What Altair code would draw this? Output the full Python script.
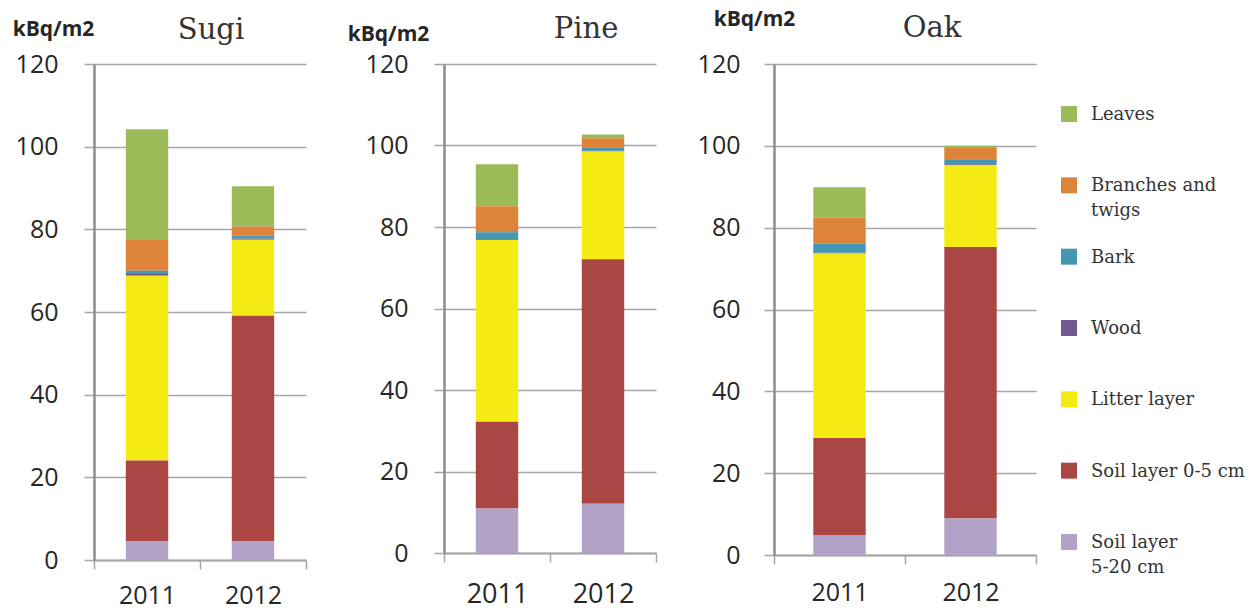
import altair as alt
import pandas as pd

panels = ["Sugi", "Pine", "Oak"]
years = ["2011", "2012"]
series = ["Leaves", "Branches and twigs", "Bark", "Wood", "Litter layer",
          "Soil layer 0-5 cm", "Soil layer 5-20 cm"]
series_labels = ["Leaves", "Branches and\ntwigs", "Bark", "Wood", "Litter layer",
                 "Soil layer 0-5 cm", "Soil layer\n5-20 cm"]
colors = ["#9BBB59", "#DD843A", "#4298B0", "#71588F", "#F5EB14", "#AA4644", "#B2A2C8"]
y_ticks = [0, 20, 40, 60, 80, 100, 120]

# bars in order: Sugi 2011, Sugi 2012, Pine 2011, Pine 2012, Oak 2011, Oak 2012
leaves = [26.6, 9.7, 10.3, 0.9, 7.4, 0.5]
branches = [7.6, 2.2, 6.4, 2.2, 6.4, 2.8]
bark = [0.8, 0.7, 1.7, 0.9, 2.2, 1.2]
wood = [0.4, 0.3, 0.2, 0.2, 0.2, 0.2]
litter = [44.7, 18.4, 44.6, 26.4, 45.1, 20.0]
soil_0_5 = [19.6, 54.6, 21.3, 60.0, 23.7, 66.4]
soil_5_20 = [4.5, 4.5, 10.9, 12.1, 4.9, 8.9]

series_values = [leaves, branches, bark, wood, litter, soil_0_5, soil_5_20]

rows = []
i = 0
for p in panels:
    for yr in years:
        for k, s in enumerate(series):
            rows.append({"panel": p, "year": yr, "series": s,
                         "value": series_values[k][i], "order": len(series) - k})
        i += 1
df = pd.DataFrame(rows)
leg_df = pd.DataFrame({"series": series, "label": series_labels})

TXT = "#262626"
GRID = "#A6A6A6"
color_scale = alt.Scale(domain=series, range=colors)


def panel(name, width, height, kbq_x, kbq_y, title_dx, title_offset,
          xlab_size, xlab_pad, lab_pad):
    d = df[df.panel == name]
    bars = alt.Chart(d).mark_bar(width=alt.RelativeBandSize(0.4)).encode(
        x=alt.X("year:N", sort=years,
                scale=alt.Scale(paddingInner=0, paddingOuter=0),
                axis=alt.Axis(title=None, labelAngle=0, tickBand="extent",
                              labelFont="Open Sans", labelFontSize=xlab_size,
                              labelColor=TXT, labelPadding=xlab_pad,
                              domainColor=GRID, domainWidth=2,
                              tickColor=GRID, tickWidth=1.5, tickSize=9,
                              grid=False)),
        y=alt.Y("value:Q", stack="zero",
                scale=alt.Scale(domain=[0, 120], nice=False),
                axis=alt.Axis(values=y_ticks, title="kBq/m2", titleAngle=0,
                              titleX=kbq_x, titleY=kbq_y, titleAlign="center",
                              titleBaseline="middle", titleFont="Open Sans",
                              titleFontWeight="bold", titleFontSize=21,
                              titleColor=TXT,
                              labelFont="Open Sans", labelFontSize=25,
                              labelColor=TXT, labelPadding=lab_pad,
                              gridColor=GRID, gridWidth=1.5,
                              tickColor=GRID, tickWidth=1.5, tickSize=10,
                              domainColor="#8C8C8C", domainWidth=2.5)),
        color=alt.Color("series:N", scale=color_scale, legend=None),
        order=alt.Order("order:Q", sort="ascending"),
    ).properties(width=width, height=height)
    return bars, alt.Title(name, anchor="middle", frame="group", dx=title_dx,
                           offset=title_offset, font="DejaVu Serif",
                           fontSize=29, fontWeight="normal", color="#333333")


sugi_b, sugi_t = panel("Sugi", 212, 496, -41, -35, 11, -27, 25, 14, 26)
pine_b, pine_t = panel("Pine", 212, 489, -56, -30, 36, -21, 27, 19, 26)
oak_b, oak_t = panel("Oak", 262, 491, -20, -45, 27, -35, 25, 16, 24)

sugi = sugi_b.properties(title=sugi_t)
pine = pine_b.properties(title=pine_t)

leg_y = alt.Y("series:N", sort=series, axis=None,
              scale=alt.Scale(type="point", range=[50, 478], padding=0))
leg_sq = alt.Chart(leg_df).mark_square(size=256, opacity=1).encode(
    x=alt.value(295), y=leg_y,
    color=alt.Color("series:N", scale=color_scale, legend=None))
leg_tx = alt.Chart(leg_df).mark_text(
    align="left", baseline="alphabetic", dy=6, font="DejaVu Serif",
    fontSize=18, color="#333333", lineBreak="\n", lineHeight=25).encode(
    x=alt.value(317), y=leg_y, text="label:N")

oak = alt.layer(oak_b, leg_sq, leg_tx).resolve_scale(y="independent").properties(title=oak_t)

chart = alt.hconcat(sugi, pine, oak, spacing=40).properties(
    padding={"left": 12, "top": 8, "right": 0, "bottom": 0},
    background="white",
).configure_view(stroke=None)

chart.save("out.html", embed_options={"renderer": "svg", "actions": False})
